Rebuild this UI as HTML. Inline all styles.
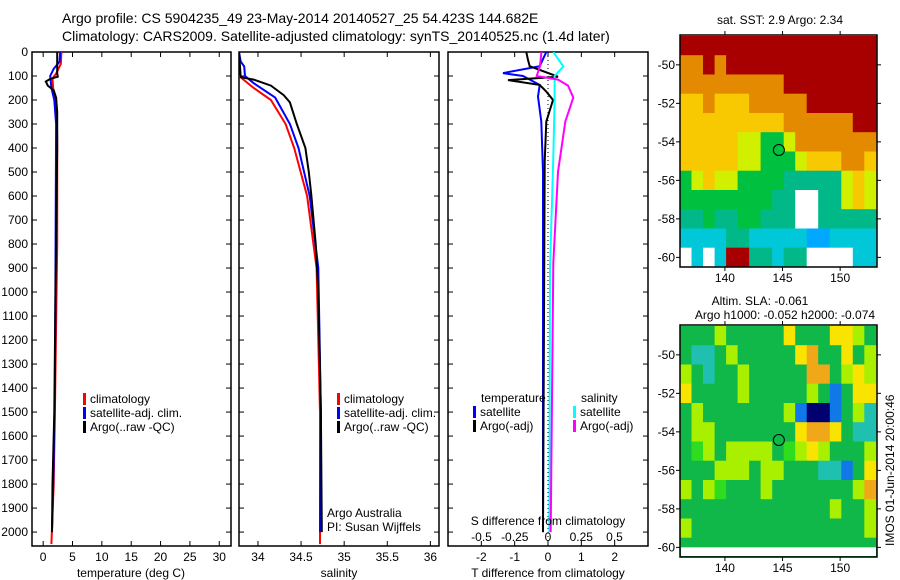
<!DOCTYPE html>
<html><head><meta charset="utf-8"><style>
html,body{margin:0;padding:0;background:#fff;width:900px;height:580px;overflow:hidden}
svg text{font-family:"Liberation Sans",sans-serif;font-size:12px;fill:#000}
</style></head><body>
<svg id="c" width="900" height="580" xmlns="http://www.w3.org/2000/svg">
<text x="62" y="23" style="font-size:14px">Argo profile: CS 5904235_49 23-May-2014 20140527_25 54.423S 144.682E</text>
<text x="62" y="41" style="font-size:14px">Climatology: CARS2009. Satellite-adjusted climatology: synTS_20140525.nc (1.4d later)</text>
</svg>
<script>
// ---- data ----
const tempClimDepth=[0,50,90,110,150,200,350,800,1500,1800,2050];
const tempClim=[3.1,3.0,2.2,1.6,1.7,2.1,2.4,2.4,2.0,1.8,1.4];
const tempSatDepth=[0,40,70,100,150,200,300,900,1400,1700,2000];
const tempSat=[2.9,2.8,1.8,1.2,1.4,1.9,2.2,2.1,2.0,1.8,1.5];
const tempArgoDepth=[0,90,103,112,123,140,160,190,250,400,1000,1500,1800,2000];
const tempArgo=[2.4,2.4,2.5,1.2,0.45,0.8,1.8,2.2,2.4,2.4,2.1,1.9,1.6,1.5];
const salClimDepth=[100,150,200,300,400,600,900,1500,2050];
const salClim=[33.78,33.95,34.15,34.32,34.42,34.57,34.68,34.72,34.72];
const salSatDepth=[0,40,60,100,130,190,300,400,600,900,1500,2000];
const salSat=[33.78,33.8,33.84,33.85,33.95,34.2,34.37,34.47,34.6,34.7,34.73,34.72];
const salArgoDepth=[0,105,115,140,180,210,300,400,500,600,800,1000,1500,2000];
const salArgo=[33.78,33.8,33.95,34.15,34.3,34.37,34.45,34.55,34.59,34.62,34.67,34.7,34.73,34.74];
const dTSatDepth=[0,59,88,100,137,186,290,500,2000];
const dTSat=[-0.05,-0.25,-1.35,-0.75,-0.25,-0.3,-0.2,-0.15,-0.15];
const dTArgoDepth=[0,33,59,103,117,137,165,200,290,455,2000];
const dTArgo=[-0.65,-0.6,-0.55,0.3,-1.2,-0.25,-0.05,0.15,-0.05,-0.1,-0.15];
const dSSatDepth=[0,60,100,200,440,900,2000];
const dSSat=[0.04,0.115,0.05,0.05,0.04,0.015,0.01];
const dSArgoDepth=[0,59,100,115,140,190,290,500,880,2000];
const dSArgo=[-0.05,-0.06,-0.085,0.075,0.15,0.19,0.13,0.075,0.04,0.02];
const depthTicks=[0,100,200,300,400,500,600,700,800,900,1000,1100,1200,1300,1400,1500,1600,1700,1800,1900,2000];
const tempTicks=[0,5,10,15,20,25,30];
const salTicks=[34,34.5,35,35.5,36];
const dTTicks=[-2,-1,0,1,2];
const dSTicks=[-0.5,-0.25,0,0.25,0.5];
const sstGrid=[
"RRRRRRRRRRRRRRRRR",
"OORORRRRRRRRRRRRR",
"OOOOOOOOORRRRRRRR",
"YYOYYYOOOOORRRRRR",
"YYYYYYYYYOOOOOORR",
"YYYYYLLGGLOOOOOOO",
"YYYYYLLGGGLYYYOOY",
"GLYLLGGGGTTTTTLYL",
"GGGGGGGGTTWWTTLYL",
"TTGTTGGTTTWWTTTTT",
"CCCCTTCCCCCBBCCCC",
"WCWCRRTTCTTWWWWCC"];
const slaGrid=[
"gggLgggggYgggYYLg",
"gCCgLgggggYOggYgL",
"LgCggLgggggOOgLYL",
"YggggLgggggLgBgYY",
"gLgggggggLBNNBgLC",
"gLLgggggggYOOYgCC",
"gGLgLLLLgGLYLgggL",
"gggLLLgLLgggCCBgY",
"LgLGgggLgggggggLO",
"gggggggggggggLggL",
"LgggggggggggggggL",
"ggggggggggggggggg"];
const lonTicks=[140,145,150];
const latTicks=[-50,-52,-54,-56,-58,-60];
const argoLon=144.682, argoLat=-54.423;

const NS="http://www.w3.org/2000/svg";
const svg=document.getElementById('c');
function mk(t,a,p){const e=document.createElementNS(NS,t);for(const k in a)e.setAttribute(k,a[k]);(p||svg).appendChild(e);return e;}
function txt(x,y,s,anchor,p){const e=mk('text',{x:x,y:y,'text-anchor':anchor||'start'},p);e.textContent=s;return e;}

const Y0=52,Y1=546,DMAX=2058;
const yD=d=>Y0+(d/DMAX)*(Y1-Y0);
function panel(x0,x1,vmin,vmax,name){
  const g=mk('g',{});
  
  
  const r=mk('rect',{x:x0,y:Y0,width:x1-x0,height:Y1-Y0,fill:'none',stroke:'#000','stroke-width':1.5},g);
  
  
  depthTicks.forEach(d=>{mk('line',{x1:x0,x2:x0+5,y1:yD(d),y2:yD(d),stroke:'#000'},g);mk('line',{x1:x1-5,x2:x1,y1:yD(d),y2:yD(d),stroke:'#000'},g);});
  return {g:g,x:v=>x0+(v-vmin)/(vmax-vmin)*(x1-x0),x0:x0,x1:x1};
}
function line(P,ds,vs,col,w,name){
  const pts=ds.map((d,i)=>P.x(vs[i]).toFixed(1)+','+yD(d).toFixed(1)).join(' ');
  const e=mk('polyline',{points:pts,fill:'none',stroke:col,'stroke-width':w},P.g);
  
  
}
function xticks(P,ticks,fmt,ylab){
  ticks.forEach(t=>{const x=P.x(t);mk('line',{x1:x,x2:x,y1:Y1,y2:Y1-5,stroke:'#000'},P.g);mk('line',{x1:x,x2:x,y1:Y0,y2:Y0+5,stroke:'#000'},P.g);
    const e=txt(x,ylab,fmt(t),'middle',P.g);});
}
// clip paths
const defs=mk('defs',{});
function clip(id,x,y,w,h){const c=mk('clipPath',{id:id},defs);mk('rect',{x:x,y:y,width:w,height:h},c);}

// Panel 1 temperature
const P1=panel(32,231,-1.9,32.0,'temperature-panel');
clip('c1',32,Y0,199,Y1-Y0);P1.g.setAttribute('clip-path','');
depthTicks.forEach(d=>{const e=txt(28,yD(d)+4,String(d),'end');});
xticks(P1,tempTicks,String,561);
const g1=mk('g',{'clip-path':'url(#c1)'},P1.g);const L1={g:g1,x:P1.x};
line(L1,tempClimDepth,tempClim,'#f00',2,'temp-climatology-line');
line(L1,tempSatDepth,tempSat,'#00f',2,'temp-satellite-line');
line(L1,tempArgoDepth,tempArgo,'#000',2,'temp-argo-line');
let t=txt(131,577,'temperature (deg C)','middle');

// Panel 2 salinity
const P2=panel(239,439,33.78,36.1,'salinity-panel');
clip('c2',239,Y0,200,Y1-Y0);
xticks(P2,salTicks,String,561);
const g2=mk('g',{'clip-path':'url(#c2)'},P2.g);const L2={g:g2,x:P2.x};
line(L2,salClimDepth,salClim,'#f00',2,'sal-climatology-line');
line(L2,salSatDepth,salSat,'#00f',2,'sal-satellite-line');
line(L2,salArgoDepth,salArgo,'#000',2,'sal-argo-line');
t=txt(339,577,'salinity','middle');
t=txt(327,517,'Argo Australia');
t=txt(327,531,'PI: Susan Wijffels');

// Panel 3 differences
const P3=panel(448,648,-3.0,3.0,'difference-panel');
const PS={g:P3.g,x:v=>548+v*133};
clip('c3',448,Y0,200,Y1-Y0);
mk('line',{x1:548,x2:548,y1:Y0,y2:Y1,stroke:'#000','stroke-dasharray':'1,3'},P3.g);
xticks(P3,dTTicks,String,561);
dSTicks.forEach(v=>{const e=txt(PS.x(v),541,String(v),'middle',P3.g);});
t=txt(548,525,'S difference from climatology','middle');
const g3=mk('g',{'clip-path':'url(#c3)'},P3.g);
line({g:g3,x:P3.x},dTSatDepth,dTSat,'#00f',2,'tdiff-satellite-line');
line({g:g3,x:P3.x},dTArgoDepth,dTArgo,'#000',2,'tdiff-argo-line');
line({g:g3,x:PS.x},dSSatDepth,dSSat,'#0ff',2,'sdiff-satellite-line');
line({g:g3,x:PS.x},dSArgoDepth,dSArgo,'#f0f',2,'sdiff-argo-line');
t=txt(548,577,'T difference from climatology','middle');

// legends
function legItem(x,y,col,label,name){
  const r=mk('rect',{x:x,y:y-10,width:3,height:12,fill:col});
  
  const e=txt(x+7,y,label);
}
legItem(83,403,'#f00','climatology','legend-climatology');
legItem(83,417,'#00f','satellite-adj. clim.','legend-satellite-adj');
legItem(83,431,'#000','Argo(..raw -QC)','legend-argo');
legItem(337,403,'#f00','climatology','legend2-climatology');
legItem(337,417,'#00f','satellite-adj. clim.','legend2-satellite-adj');
legItem(337,431,'#000','Argo(..raw -QC)','legend2-argo');
t=txt(481,402,'temperature');
t=txt(581,402,'salinity');
legItem(473,416,'#00f','satellite','legend-t-satellite');
legItem(473,430,'#000','Argo(-adj)','legend-t-argo');
legItem(573,416,'#0ff','satellite','legend-s-satellite');
legItem(573,430,'#f0f','Argo(-adj)','legend-s-argo');

// Maps
const MX0=680,MX1=877,LON0=136.1,LON1=153.2;
const lx=l=>MX0+(l-LON0)/(LON1-LON0)*(MX1-MX0);
function map(top,grid,pal,name,id){
  const lat0=-48.45,lat1=-60.5,bot=top+232;
  const ly=a=>top+(a-lat0)/(lat1-lat0)*(bot-top);
  clip(id,MX0,top,MX1-MX0,bot-top);
  const g=mk('g',{'clip-path':'url(#'+id+')'});
  
  
  grid.forEach((row,r)=>{[...row].forEach((ch,c)=>{
    const lonA=LON0+c,latA=-48.5-r;
    const x=lx(lonA),y=ly(latA);
    const cell=mk('rect',{x:x.toFixed(1),y:y.toFixed(1),width:(lx(lonA+1)-x+0.6).toFixed(1),height:(ly(latA-1)-y+0.6).toFixed(1),fill:pal[ch]},g);
    
    
  });});
  const fr=mk('rect',{x:MX0,y:top,width:MX1-MX0,height:bot-top,fill:'none',stroke:'#000','stroke-width':1.5});
  
  latTicks.forEach(a=>{const y=ly(a);mk('line',{x1:MX0-4,x2:MX0,y1:y,y2:y,stroke:'#000'});mk('line',{x1:MX1,x2:MX1+4,y1:y,y2:y,stroke:'#000'});
    const e=txt(675,y+4,String(a),'end');});
  lonTicks.forEach(l=>{const x=lx(l);mk('line',{x1:x,x2:x,y1:top-4,y2:top,stroke:'#000'});mk('line',{x1:x,x2:x,y1:bot,y2:bot+4,stroke:'#000'});
    const e=txt(x,bot+15,String(l),'middle');});
  const c=mk('circle',{cx:lx(argoLon),cy:ly(argoLat),r:5.5,fill:'none',stroke:'#000'});
  
  return ly;
}
const sstPal={R:'#a80000',O:'#e48a00',Y:'#f8c800',L:'#d0f000',G:'#00c040',T:'#00b888',C:'#00c8d8',B:'#00a8ff',W:'#ffffff'};
const slaPal={g:'#10b84a',G:'#30dc20',L:'#a8f000',Y:'#f8e400',O:'#f0a818',C:'#20c0b0',B:'#1078e8',N:'#000070'};
map(35,sstGrid,sstPal,'sst-map','m1');
const ly2=map(325,slaGrid,slaPal,'sla-map','m2');
const wb=mk('rect',{x:MX0+1,y:ly2(-60),width:MX1-MX0-2,height:325+232-ly2(-60)-1,fill:'#fff'});

t=txt(780,24,'sat. SST: 2.9 Argo: 2.34','middle');
t=txt(760,305,'Altim. SLA: -0.061','middle');
t=txt(785,319,'Argo h1000: -0.052 h2000: -0.074','middle');
t=txt(0,0,'IMOS 01-Jun-2014 20:00:46');t.setAttribute('transform','translate(894,546) rotate(-90)');

</script>
</body></html>
